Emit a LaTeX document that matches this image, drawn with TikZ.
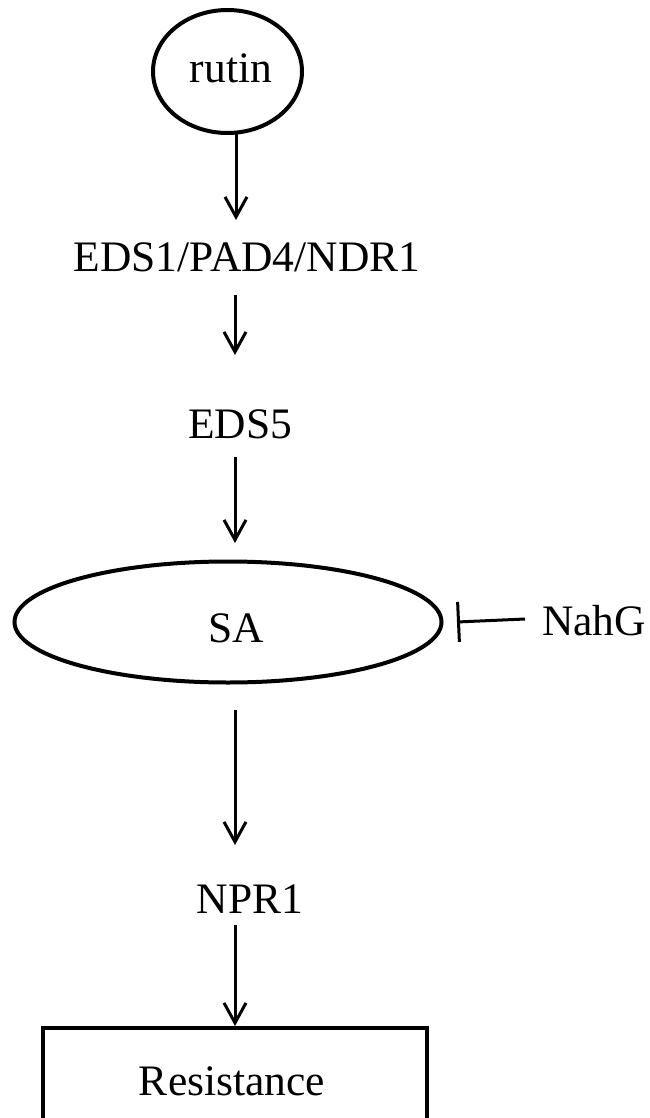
\documentclass[tikz,border=0pt]{standalone}
\usepackage{fontspec}
\setmainfont{Liberation Serif}
\usetikzlibrary{arrows.meta,shapes.geometric}
\begin{document}
\begin{tikzpicture}[x=1pt,y=-1pt,
  lbl/.style={font=\fontsize{43.5}{52}\selectfont, inner sep=0pt, anchor=base},
  oval/.style={draw, line width=4pt, ellipse, inner sep=0pt},
  act/.style={line width=3pt, -{Straight Barb[length=20pt,width=22pt,line width=3pt]}},
  inh/.style={line width=3pt, -{Bar[width=40pt,line width=3pt]}}]
\useasboundingbox (0,0) rectangle (649,1118);
\clip (0,0) rectangle (649,1118);
\node[oval, minimum width=149pt, minimum height=123pt] (rutin) at (227.5,71.5) {};
\node[lbl] at (231,83) {rutin};
\node[lbl] (eds1) at (247,271) {EDS1/PAD4/NDR1};
\node[lbl] (eds5) at (240,438) {EDS5};
\node[oval, minimum width=427pt, minimum height=121pt] (sa) at (228,622) {};
\node[lbl] at (236,642) {SA};
\node[lbl, anchor=base west] (nahg) at (542,635) {NahG};
\node[lbl] (npr1) at (250,913) {NPR1};
\node[draw, line width=4pt, minimum width=384pt, minimum height=140pt, inner sep=0pt] (res) at (235,1098) {};
\node[lbl] at (232,1095) {Resistance};
\coordinate (r0) at (236,133);
\coordinate (r1) at (236,220);
\coordinate (e0) at (235,295);
\coordinate (e1) at (235,355);
\coordinate (f0) at (235,457);
\coordinate (f1) at (235,543);
\coordinate (s0) at (235,710);
\coordinate (s1) at (235,845);
\coordinate (n0) at (235,925);
\coordinate (bar) at (457,622);
\coordinate (nh) at (525,619);
\draw[act] (r0) -- (r1);
\draw[act] (e0) -- (e1);
\draw[act] (f0) -- (f1);
\draw[act] (s0) -- (s1);
\draw[act] (n0) -- (n0 |- res.north);
\draw[inh] (nh) -- (bar);
\end{tikzpicture}
\end{document}
